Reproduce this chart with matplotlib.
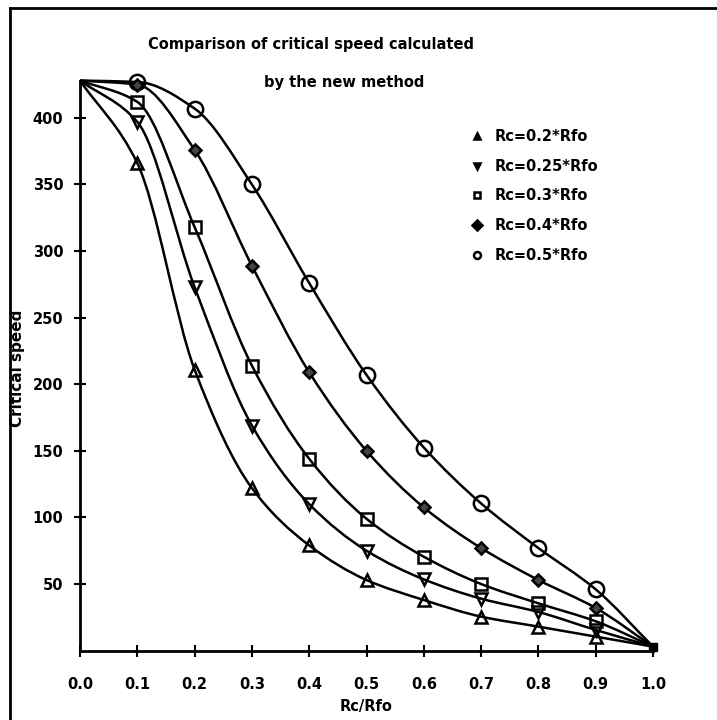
import matplotlib
matplotlib.use("Agg")
import matplotlib.pyplot as plt
import numpy as np
from matplotlib.path import Path
from matplotlib.patches import PathPatch
from matplotlib.lines import Line2D

# data
rc_rfo = [0.0, 0.1, 0.2, 0.3, 0.4, 0.5, 0.6, 0.7, 0.8, 0.9, 1.0]
speed_020 = [428, 366, 211, 122, 79, 53, 38, 25.5, 18, 10.5, 3]
speed_025 = [428, 397, 273, 169, 110, 75, 53.5, 39, 29, 15.5, 3]
speed_030 = [428, 412, 318, 214, 144, 99, 70.5, 50, 35.5, 22, 3]
speed_040 = [428, 425, 376, 289, 209, 150, 107.5, 77, 53, 32, 3]
speed_050 = [428, 427, 407, 350, 276, 207, 152.5, 110.5, 77, 46, 3]

labels = ["Rc=0.2*Rfo", "Rc=0.25*Rfo", "Rc=0.3*Rfo", "Rc=0.4*Rfo", "Rc=0.5*Rfo"]
series = [speed_020, speed_025, speed_030, speed_040, speed_050]
markers = ["^", "v", "s", "D", "o"]
msizes = [9, 9, 9, 6, 11]

x_ticks = [0.0, 0.1, 0.2, 0.3, 0.4, 0.5, 0.6, 0.7, 0.8, 0.9, 1.0]
y_ticks = [50, 100, 150, 200, 250, 300, 350, 400]


def smooth_path(x, y):
    # monotone cubic (Fritsch-Carlson) tangents, drawn as bezier segments
    x = np.asarray(x, float)
    y = np.asarray(y, float)
    h = np.diff(x)
    d = np.diff(y) / h
    m = np.zeros_like(y)
    m[0], m[-1] = d[0], d[-1]
    for i in range(1, len(y) - 1):
        if d[i - 1] * d[i] <= 0:
            m[i] = 0
        else:
            w1 = 2 * h[i] + h[i - 1]
            w2 = h[i] + 2 * h[i - 1]
            m[i] = (w1 + w2) / (w1 / d[i - 1] + w2 / d[i])
    verts = [(x[0], y[0])]
    codes = [Path.MOVETO]
    for i in range(len(x) - 1):
        verts += [(x[i] + h[i] / 3, y[i] + m[i] * h[i] / 3),
                  (x[i + 1] - h[i] / 3, y[i + 1] - m[i + 1] * h[i] / 3),
                  (x[i + 1], y[i + 1])]
        codes += [Path.CURVE4] * 3
    return Path(verts, codes)


plt.rcParams["font.family"] = "DejaVu Sans"
plt.rcParams["font.weight"] = "bold"
fs = 10.5

fig = plt.figure(figsize=(7.17, 7.2), dpi=100)
ax = fig.add_axes([80 / 717, 69.4 / 720, 573 / 717, 570 / 720])

for ys, mk, ms in zip(series, markers, msizes):
    ax.add_patch(PathPatch(smooth_path(rc_rfo, ys), facecolor="none",
                           edgecolor="black", lw=1.8, clip_on=False))
    ax.plot(rc_rfo[1:-1], ys[1:-1], linestyle="none", marker=mk, ms=ms,
            mfc="none" if mk != "D" else "#444444", mec="black", mew=1.8,
            clip_on=False)
ax.plot([1.0], [3], linestyle="none", marker="s", ms=6, color="black", clip_on=False)

ax.set_xlim(0, 1.0)
ax.set_ylim(0, 428)
ax.set_xticks(x_ticks)
ax.set_xticklabels([f"{v:.1f}" for v in x_ticks], fontsize=fs, fontweight="bold")
ax.set_yticks(y_ticks)
ax.set_yticklabels([str(v) for v in y_ticks], fontsize=fs, fontweight="bold")
ax.tick_params(direction="inout", length=8, width=1.5)
ax.tick_params(axis="y", pad=8)
ax.tick_params(axis="x", pad=15)
for s in ["top", "right"]:
    ax.spines[s].set_visible(False)
for s in ["left", "bottom"]:
    ax.spines[s].set_linewidth(2)

ax.set_xlabel("Rc/Rfo", fontsize=fs, fontweight="bold", labelpad=5)
fig.text(18 / 717, 1 - 368 / 720, "Critical speed", rotation=90, fontsize=11,
         fontweight="bold", ha="center", va="center")

fig.text(311 / 717, 1 - 45 / 720, "Comparison of critical speed calculated",
         fontsize=fs, fontweight="bold", ha="center", va="center")
fig.text(344 / 717, 1 - 82 / 720, "by the new method",
         fontsize=fs, fontweight="bold", ha="center", va="center")

handles = [Line2D([], [], linestyle="none", marker=mk, ms=5, color="black",
                  mfc="black" if mk in ("^", "v", "D") else "none", mew=1.8)
           for mk in markers]
ax.legend(handles, labels, loc="upper left", bbox_to_anchor=(465 / 717, 1 - 122 / 720),
          bbox_transform=fig.transFigure, frameon=False, prop={"size": fs, "weight": "bold"},
          handlelength=0.6, handletextpad=0.9, labelspacing=1.0, borderpad=0)

# outer frame of the scanned page
fig.add_artist(Line2D([10 / 717, 10 / 717], [0, 1 - 8 / 720], color="black", lw=2))
fig.add_artist(Line2D([10 / 717, 1], [1 - 8 / 720, 1 - 8 / 720], color="black", lw=2))

fig.savefig("out.png", dpi=100)
